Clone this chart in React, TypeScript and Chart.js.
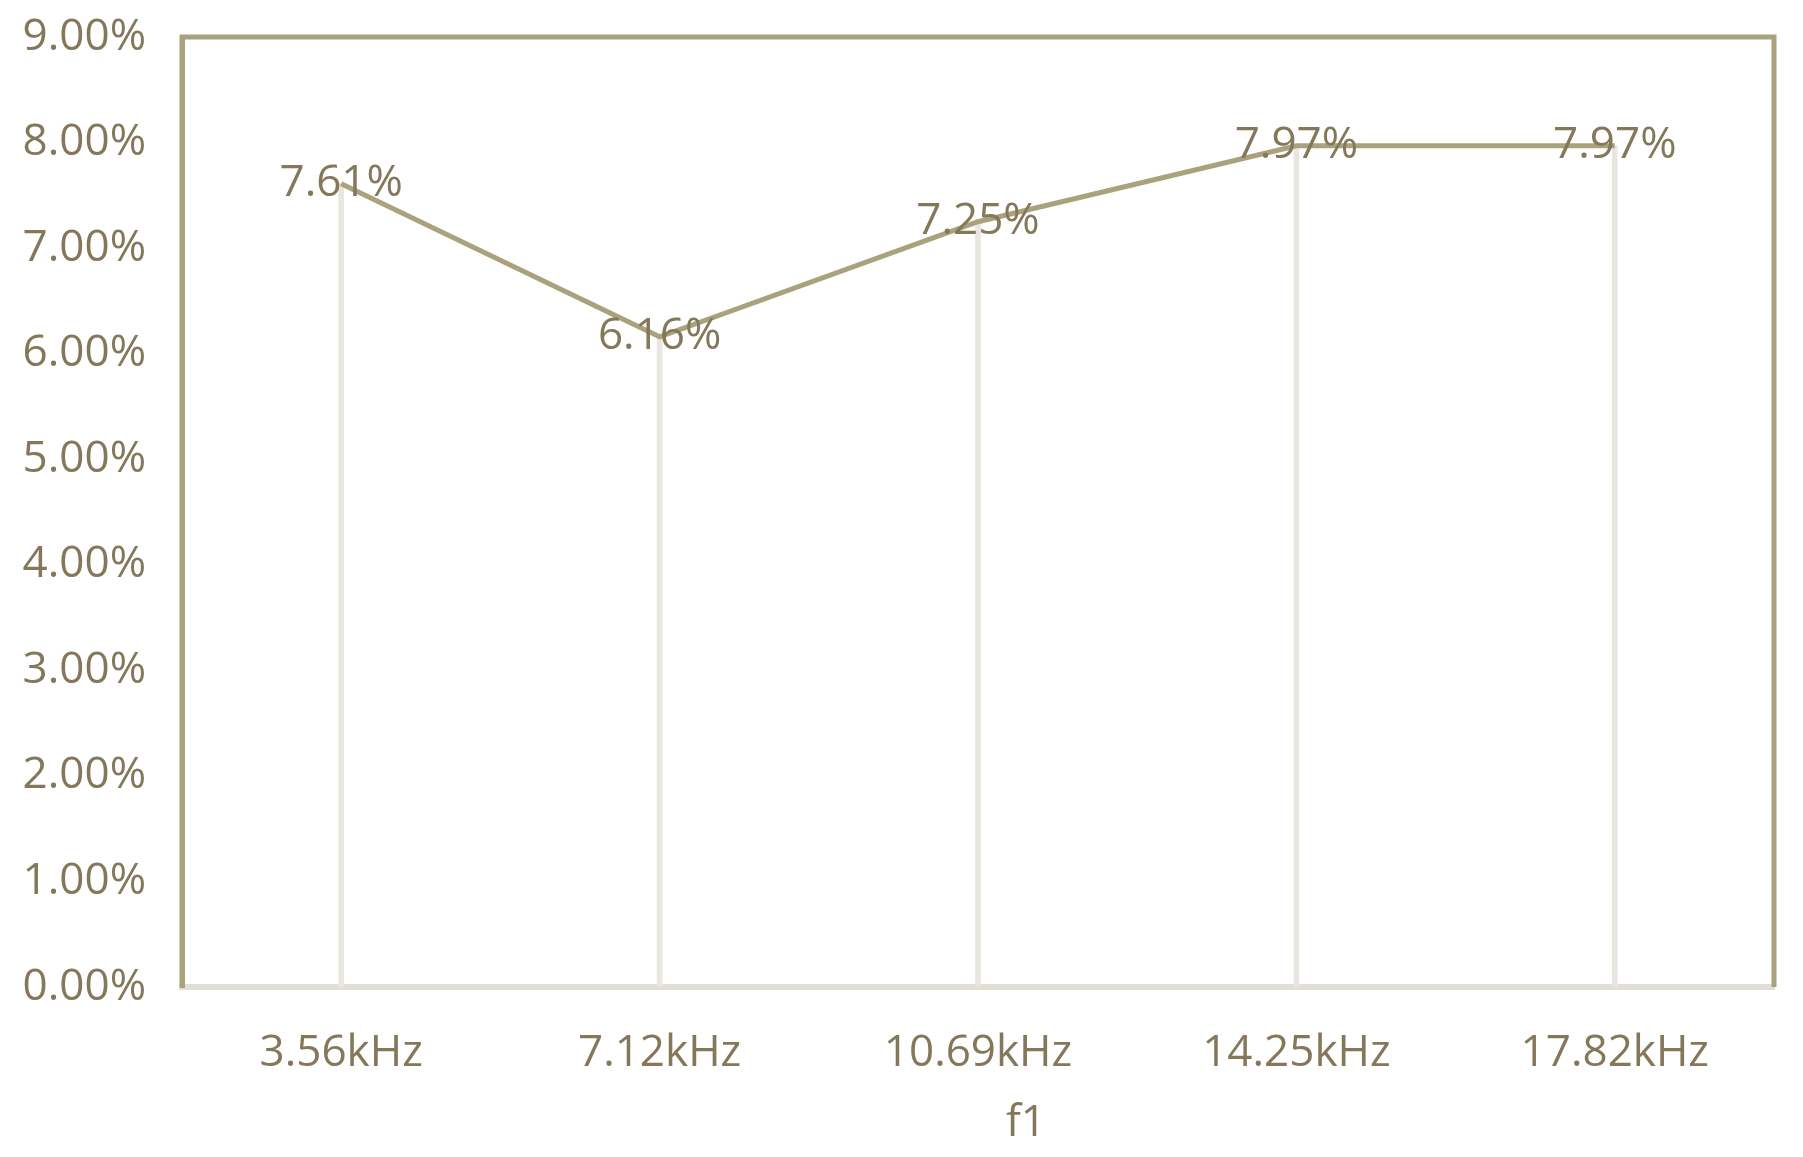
import React, { useEffect, useRef } from "react";
import { Chart, registerables } from "chart.js";

Chart.register(...registerables);

const categories = ["3.56kHz", "7.12kHz", "10.69kHz", "14.25kHz", "17.82kHz"];
const values = [7.61, 6.16, 7.25, 7.97, 7.97];
const yTicks = [0, 1, 2, 3, 4, 5, 6, 7, 8, 9];
const xTitle = "f1";

const TEXT = "#85775a";
const LINE = "#a9a27c";
const DROP = "#e8e6df";
const AXIS = "#e0ded5";
const FONT = "'Open Sans', sans-serif";

const frame = {
  id: "frame",
  afterDatasetsDraw(chart: any) {
    const { ctx, chartArea } = chart;
    ctx.save();
    ctx.strokeStyle = LINE;
    ctx.lineWidth = 5;
    ctx.beginPath();
    ctx.moveTo(chartArea.left, chartArea.bottom);
    ctx.lineTo(chartArea.left, chartArea.top);
    ctx.lineTo(chartArea.right, chartArea.top);
    ctx.lineTo(chartArea.right, chartArea.bottom);
    ctx.stroke();
    ctx.restore();
  },
};

const labels = {
  id: "labels",
  afterDatasetsDraw(chart: any) {
    const { ctx } = chart;
    const meta = chart.getDatasetMeta(0);
    ctx.save();
    ctx.font = `44px ${FONT}`;
    ctx.fillStyle = TEXT;
    ctx.textAlign = "center";
    ctx.textBaseline = "middle";
    meta.data.forEach((pt: any, i: number) => {
      ctx.fillText(values[i].toFixed(2) + "%", pt.x, pt.y);
    });
    // x-axis title (Excel places it slightly right of centre)
    const xs = chart.scales.x;
    ctx.fillText(xTitle, (xs.left + xs.right) / 2 + 48, xs.bottom - 34);
    ctx.restore();
  },
};

export default function App() {
  const ref = useRef<HTMLCanvasElement>(null);
  useEffect(() => {
    document.body.style.margin = "0";
    const chart = new Chart(ref.current!, {
      type: "bar",
      data: {
        labels: categories,
        datasets: [
          {
            type: "line",
            data: values,
            borderColor: LINE,
            borderWidth: 5,
            pointRadius: 0,
            tension: 0,
            order: 0,
          } as any,
          {
            type: "bar",
            data: values,
            backgroundColor: DROP,
            barThickness: 5,
            order: 1,
          },
        ],
      },
      options: {
        animation: false,
        responsive: false,
        layout: { padding: { left: 0, right: 29, top: 37, bottom: 0 } },
        plugins: {
          legend: { display: false },
          tooltip: { enabled: false },
        },
        scales: {
          x: {
            offset: true,
            grid: { display: false, drawTicks: false },
            border: { display: true, color: AXIS, width: 6 },
            ticks: {
              color: TEXT,
              font: { family: FONT, size: 44 },
              padding: 40,
            },
            title: { display: false },
            afterFit(scale: any) {
              scale.height = 170;
              scale.paddingLeft = 0;
              scale.paddingRight = 0;
            },
          },
          y: {
            min: 0,
            max: 9,
            afterBuildTicks(scale: any) {
              scale.ticks = yTicks.map((v) => ({ value: v }));
            },
            grid: { display: false, drawTicks: false },
            border: { display: true, color: LINE, width: 5 },
            ticks: {
              color: TEXT,
              font: { family: FONT, size: 44 },
              padding: 36,
              callback: (v: any) => Number(v).toFixed(2) + "%",
            },
            afterFit(scale: any) {
              scale.width = 182;
              scale.paddingTop = 0;
              scale.paddingBottom = 0;
            },
          },
        },
      },
      plugins: [frame, labels],
    });
    return () => chart.destroy();
  }, []);
  return (
    <div style={{ width: 1803, height: 1157, background: "#fff" }}>
      <canvas ref={ref} width={1803} height={1157} style={{ display: "block" }} />
    </div>
  );
}
